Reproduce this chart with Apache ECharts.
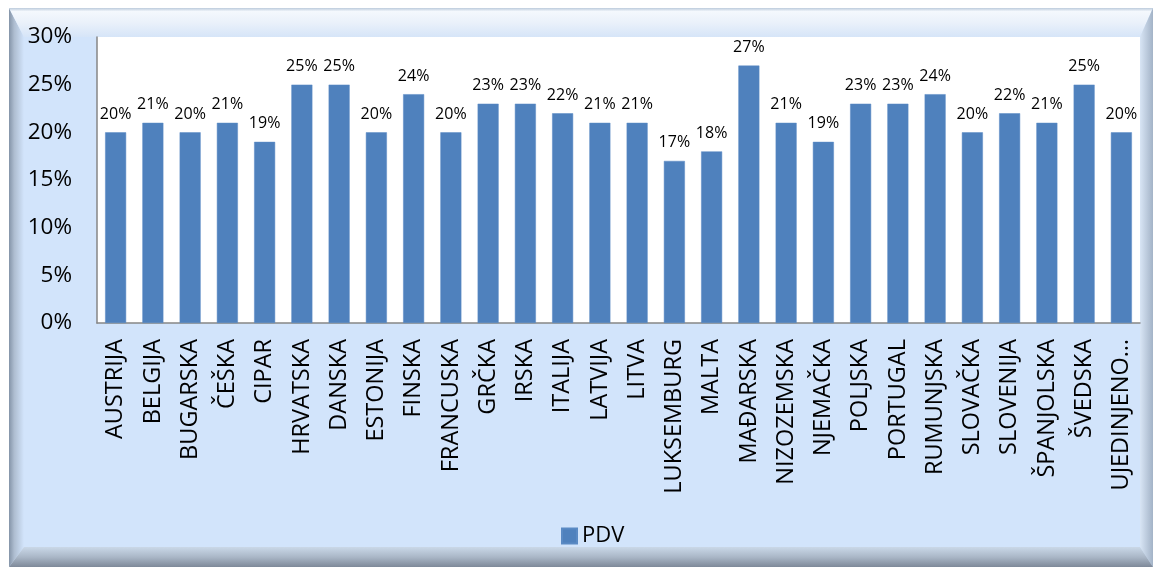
<!DOCTYPE html>
<html>
<head>
<meta charset="utf-8">
<script src="https://cdn.jsdelivr.net/npm/echarts@6/dist/echarts.min.js"></script>
<style>
  html, body { margin: 0; padding: 0; background: #fff; }
  #main { width: 1159px; height: 567px; }
</style>
</head>
<body>
<div id="main"></div>
<script>
const categories = [
  "AUSTRIJA", "BELGIJA", "BUGARSKA", "ČEŠKA", "CIPAR", "HRVATSKA", "DANSKA",
  "ESTONIJA", "FINSKA", "FRANCUSKA", "GRČKA", "IRSKA", "ITALIJA", "LATVIJA",
  "LITVA", "LUKSEMBURG", "MALTA", "MAĐARSKA", "NIZOZEMSKA", "NJEMAČKA",
  "POLJSKA", "PORTUGAL", "RUMUNJSKA", "SLOVAČKA", "SLOVENIJA", "ŠPANJOLSKA",
  "ŠVEDSKA", "UJEDINJENO…"
];
const pdv = [20, 21, 20, 21, 19, 25, 25, 20, 24, 20, 23, 23, 22, 21, 21, 17, 18, 27, 21, 19, 23, 23, 24, 20, 22, 21, 25, 20];
const seriesName = "PDV";
const yTicks = [0, 5, 10, 15, 20, 25, 30];

const chart = echarts.init(document.getElementById("main"));

const lin = (x2, y2, stops) => ({
  type: "linear", x: 0, y: 0, x2: x2, y2: y2,
  colorStops: stops.map(s => ({ offset: s[0], color: s[1] }))
});

const option = {
  backgroundColor: "#ffffff",
  textStyle: { fontFamily: "Open Sans" },
  graphic: {
    elements: [
      { type: "rect", silent: true, z: -10, shape: { x: 9, y: 8, width: 1144, height: 559 }, style: { fill: "#d2e4fb" } },
      { type: "polygon", silent: true, z: -9, shape: { points: [[9, 8], [24, 37], [24, 547], [9, 567]] },
        style: { fill: lin(1, 0, [[0, "#8494a8"], [0.35, "#aebdd0"], [1, "#d2e4fb"]]) } },
      { type: "polygon", silent: true, z: -9, shape: { points: [[9, 8], [1153, 8], [1140, 37], [24, 37]] },
        style: { fill: lin(0, 1, [[0, "#bccbdc"], [0.12, "#f4f8fd"], [0.5, "#eaf1fa"], [1, "#d6e5f8"]]) } },
      { type: "polygon", silent: true, z: -9, shape: { points: [[1153, 8], [1153, 567], [1140, 547], [1140, 37]] },
        style: { fill: lin(1, 0, [[0, "#d8e5f5"], [1, "#a3b3c7"]]) } },
      { type: "polygon", silent: true, z: -9, shape: { points: [[9, 567], [24, 547], [1140, 547], [1153, 567]] },
        style: { fill: lin(0, 1, [[0, "#cad8e8"], [0.5, "#aab7c7"], [1, "#7e8999"]]) } },
      { type: "rect", silent: true, z: -8, shape: { x: 97, y: 37, width: 1043, height: 286 }, style: { fill: "#ffffff" } }
    ]
  },
  grid: { left: 97, right: 19, top: 37, bottom: 244, containLabel: false },
  legend: {
    data: [seriesName],
    left: 556,
    top: 520,
    icon: "rect",
    itemWidth: 15,
    itemHeight: 15,
    itemGap: 7,
    textStyle: { fontSize: 22, color: "#000", fontFamily: "Open Sans" }
  },
  xAxis: {
    type: "category",
    data: categories,
    axisLine: { lineStyle: { color: "#868686", width: 1.5 } },
    axisTick: { show: false },
    axisLabel: {
      interval: 0,
      rotate: 90,
      margin: 16,
      fontSize: 23.5,
      color: "#000",
      fontFamily: "Open Sans"
    }
  },
  yAxis: {
    type: "value",
    min: yTicks[0],
    max: yTicks[yTicks.length - 1],
    interval: 5,
    splitLine: { show: false },
    axisLine: { show: true, lineStyle: { color: "#868686", width: 1.5 } },
    axisTick: { show: false },
    axisLabel: {
      formatter: "{value}%",
      margin: 25,
      fontSize: 22.5,
      color: "#000",
      fontFamily: "Open Sans"
    }
  },
  series: [
    {
      name: seriesName,
      type: "bar",
      data: pdv,
      barWidth: 21,
      itemStyle: { color: "#4f81bd", borderColor: "#5a8ac4", borderWidth: 0.5 },
      label: {
        show: true,
        position: "top",
        distance: 10,
        formatter: "{c}%",
        fontSize: 16,
        color: "#000",
        fontFamily: "Open Sans"
      }
    }
  ]
};

chart.setOption(option);
</script>
</body>
</html>
